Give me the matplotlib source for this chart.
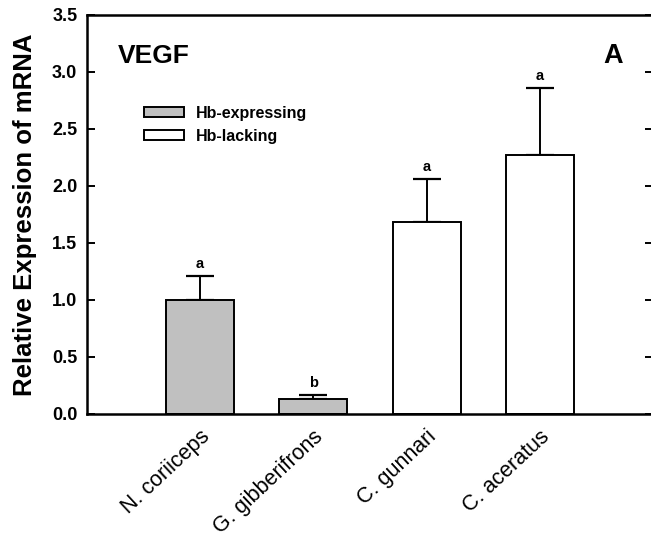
import matplotlib.pyplot as plt
from matplotlib.patches import Patch

plt.rcParams['font.family'] = ['Liberation Sans', 'DejaVu Sans']

species = ['N. coriiceps', 'G. gibberifrons', 'C. gunnari', 'C. aceratus']
expression = [1.00, 0.13, 1.68, 2.27]
sem = [0.21, 0.035, 0.38, 0.59]
letters = ['a', 'b', 'a', 'a']
hb_expressing = [True, True, False, False]

fig = plt.figure(figsize=(6.51, 5.44), dpi=100)
ax = fig.add_axes([0.1336, 0.239, 0.8694, 0.7335])

pos = [1, 2, 3, 4]
colors = ['#c0c0c0' if h else 'white' for h in hb_expressing]
ax.bar(pos, expression, width=0.6, color=colors, edgecolor='black',
       linewidth=1.4, zorder=2)
ax.errorbar(pos, expression, yerr=[[0] * 4, sem], fmt='none', ecolor='black',
            elinewidth=1.4, capsize=10, capthick=1.6, zorder=1)
for p, v, e, l in zip(pos, expression, sem, letters):
    ax.text(p, v + e + 0.045, l, ha='center', va='bottom',
            fontsize=10.5, fontweight='bold')

ax.set_xlim(0, 5)
ax.set_ylim(0, 3.5)
ax.set_yticks([0, 0.5, 1.0, 1.5, 2.0, 2.5, 3.0, 3.5])
ax.set_yticklabels(['%.1f' % t for t in ax.get_yticks()], fontweight='bold',
                   fontsize=13)
ax.set_xticks(pos)
ax.set_xticklabels(species, rotation=43, ha='right', rotation_mode='anchor',
                   fontsize=15.5)
ax.tick_params(axis='x', length=0, pad=9)
ax.tick_params(axis='y', direction='in', length=6, width=1.4, right=True,
               pad=7)
for s in ax.spines.values():
    s.set_linewidth(1.8)

ax.set_ylabel('Relative Expression of mRNA', fontsize=18.5,
              fontweight='bold')
ax.yaxis.set_label_coords(-0.088, 0.5)

ax.text(0.055, 0.897, 'VEGF', transform=ax.transAxes, fontsize=19,
        fontweight='bold', va='center')
ax.text(0.912, 0.897, 'A', transform=ax.transAxes, fontsize=19.5,
        fontweight='bold', va='center')

handles = [Patch(facecolor='#c0c0c0', edgecolor='black', linewidth=1.4),
           Patch(facecolor='white', edgecolor='black', linewidth=1.4)]
ax.legend(handles, ['Hb-expressing', 'Hb-lacking'], loc='upper left',
          bbox_to_anchor=(0.081, 0.80), frameon=False,
          prop={'weight': 'bold', 'size': 11.5}, handlelength=2.5,
          handleheight=0.6, labelspacing=0.5, handletextpad=0.75,
          borderaxespad=0.3)

fig.savefig('out.png', dpi=100)
